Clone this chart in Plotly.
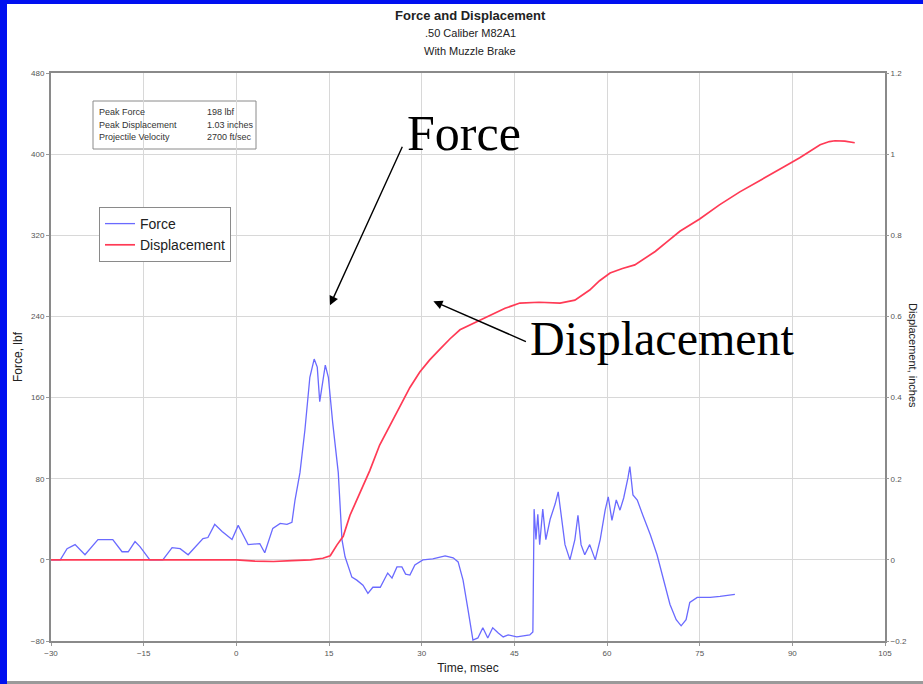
import plotly.graph_objects as go

# ---- Force (lbf) vs time (msec) ----
force_t = [-30, -28.5, -27.4, -26.1, -24.5, -22.4, -20, -18.5, -17.5, -16.4, -15.6, -14, -11.9,
           -10.4, -9.1, -7.8, -5.4, -4.6, -3.5, -2.3, -0.7, 0.3, 0.9, 1.9, 3.8, 4.6, 5.9, 7.1,
           8.2, 9.0, 9.5, 10.3, 11.1, 11.9, 12.6, 13.1, 13.5, 14.0, 14.4, 14.9, 15.6, 16.5,
           17.1, 17.6, 18.7, 19.5, 20.5, 21.3, 22.1, 23.3, 24.5, 25.2, 26.0, 26.8, 27.4, 28.1,
           28.9, 30.2, 31.8, 33.8, 35.1, 35.9, 36.7, 37.5, 38.3, 39.1, 39.9, 40.7, 41.5, 42.4,
           43.2, 44.0, 45.4, 47.5, 48.0, 48.2, 48.5, 48.8, 49.1, 49.6, 50.1, 50.8, 51.6, 52.1,
           52.6, 53.2, 54.0, 54.8, 55.3, 55.8, 56.4, 57.2, 58.1, 58.9, 59.7, 60.2, 60.8, 61.5,
           62.1, 62.7, 63.4, 63.7, 64.2, 64.9, 65.8, 67.0, 68.1, 69.1, 70.2, 71.2, 72.0, 72.8,
           73.4, 74.6, 76.7, 78.3, 80.7]
force_lbf = [0, 0, 11, 15, 5, 20, 20, 8, 8, 18, 13, 0, 0,
             12, 11, 5, 21, 22, 35, 28, 20, 34, 27, 15, 16, 7, 31, 36,
             35, 37, 59, 86, 128, 180, 198, 190, 156, 177, 192, 180, 135, 86,
             20, 3, -17, -20, -25, -33, -27, -27, -13, -18, -7, -7, -14, -15,
             -5, 0, 1, 4, 2, -2, -20, -49, -79, -77, -67, -77, -67, -72,
             -76, -74, -76, -74, -71, 50, 20, 45, 15, 50, 20, 40, 55, 67,
             44, 15, 0, 20, 44, 15, 5, 15, 0, 20, 49, 62, 39, 59,
             49, 61, 81, 92, 64, 59, 44, 25, 5, -18, -44, -59, -65, -59,
             -42, -37, -37, -36, -34]

# ---- Displacement (inches) vs time (msec) ----
disp_t = [-30, -20, -10, 0, 3, 6, 9, 12, 14, 15.2, 16.3, 17.3, 18.4, 20, 21.6, 23.2, 24.8,
          26.5, 28.1, 29.7, 31.3, 33, 34.6, 36.2, 38.6, 41.1, 43.5, 45.9, 49, 52.4, 54.8,
          57.2, 58.8, 60.5, 62.5, 64.5, 66, 67.8, 69.8, 71.8, 75, 78.2, 81.5, 84, 86.4,
          88.8, 91.2, 93, 94.5, 96, 96.9, 98.5, 100.1]
disp_in = [0, 0, 0, 0, -0.003, -0.004, -0.002, 0.0, 0.004, 0.01, 0.037, 0.058, 0.11, 0.165,
           0.22, 0.283, 0.33, 0.38, 0.425, 0.463, 0.493, 0.52, 0.545, 0.567, 0.585, 0.604,
           0.62, 0.633, 0.635, 0.633, 0.64, 0.665, 0.688, 0.707, 0.718, 0.727, 0.742, 0.76,
           0.785, 0.81, 0.84, 0.875, 0.907, 0.928, 0.949, 0.97, 0.991, 1.008, 1.023, 1.031,
           1.033, 1.032, 1.028]

# summary box rows
summary_labels = ["Peak Force", "Peak Displacement", "Projectile Velocity"]
summary_values = ["198 lbf", "1.03 inches", "2700 ft/sec"]

W, H = 923, 684
ML, MR, MT, MB = 51, 38, 73, 43
PW, PH = W - ML - MR, H - MT - MB


def px(x):
    """page pixel column -> paper x"""
    return (x - ML) / PW


def py(y):
    """page pixel row -> paper y"""
    return (H - MB - y) / PH


SANS = "Liberation Sans, Arial, sans-serif"
SERIF = "Liberation Serif, Times New Roman, serif"

fig = go.Figure()
fig.add_trace(go.Scatter(x=force_t, y=force_lbf, name="Force", mode="lines",
                         line=dict(color="#6a6aff", width=1.3), yaxis="y"))
fig.add_trace(go.Scatter(x=disp_t, y=disp_in, name="Displacement", mode="lines",
                         line=dict(color="#ff3a55", width=1.7), yaxis="y2"))

axis_common = dict(showline=True, linecolor="#8a8a8a", linewidth=2, mirror=True,
                   ticks="outside", ticklen=3, tickcolor="#9a9a9a",
                   tickfont=dict(family=SANS, size=8, color="#555"), zeroline=False)

fig.update_layout(
    width=W, height=H,
    margin=dict(l=ML, r=MR, t=MT, b=MB),
    paper_bgcolor="white", plot_bgcolor="white",
    font=dict(family=SANS, color="#222"),
    xaxis=dict(range=[-30, 105], dtick=15, tick0=-30, showgrid=True, gridcolor="#d8d8d8",
               gridwidth=1,
               title=dict(text="Time, msec", font=dict(family=SANS, size=12, color="#222"),
                          standoff=7),
               **axis_common),
    yaxis=dict(range=[-80, 480], dtick=80, tick0=-80, showgrid=True, gridcolor="#d8d8d8",
               title=dict(text="Force, lbf", font=dict(family=SANS, size=12, color="#222"),
                          standoff=6),
               **axis_common),
    yaxis2=dict(range=[-0.2, 1.2], dtick=0.2, tick0=-0.2, overlaying="y", side="right",
                showgrid=False, showline=False, ticks="outside", ticklen=3,
                tickcolor="#9a9a9a", tickfont=dict(family=SANS, size=8, color="#555"),
                zeroline=False),
    legend=dict(x=px(99), y=py(207), xanchor="left", yanchor="top",
                bgcolor="white", bordercolor="#8a8a8a", borderwidth=1,
                font=dict(family=SANS, size=14, color="#222"),
                tracegroupgap=0, itemwidth=30),
    showlegend=True,
)


def label(text, x, y, size, family=SANS, angle=0, xanchor="center", color="#222"):
    return dict(text=text, x=x, y=y, xref="paper", yref="paper", showarrow=False,
                xanchor=xanchor, yanchor="middle", textangle=angle,
                font=dict(family=family, size=size, color=color))


annotations = [
    label("<b>Force and Displacement</b>", px(470), py(15), 13),
    label(".50 Caliber M82A1", px(470), py(33), 11),
    label("With Muzzle Brake", px(470), py(51), 11),
    label("Displacement, inches", px(913), py(355), 11, angle=90),
    # callout labels
    label("Force", px(464), py(133), 50, family=SERIF, color="black"),
    label("Displacement", px(662), py(338), 48, family=SERIF, color="black"),
    # callout arrows
    dict(text="", x=15.16, y=251, xref="x", yref="y", ax=73, ay=-160, axref="pixel",
         ayref="pixel", showarrow=True, arrowhead=2, arrowsize=1.3, arrowwidth=1.4,
         arrowcolor="black", standoff=0),
    dict(text="", x=31.9, y=255, xref="x", yref="y", ax=94, ay=41, axref="pixel",
         ayref="pixel", showarrow=True, arrowhead=2, arrowsize=1.3, arrowwidth=1.4,
         arrowcolor="black", standoff=0),
]

# summary box text
row_y = [112, 125, 137]
for lab, val, ry in zip(summary_labels, summary_values, row_y):
    annotations.append(label(lab, px(97), py(ry), 9, xanchor="left", color="#333"))
    annotations.append(label(val, px(205), py(ry), 9, xanchor="left", color="#333"))
fig.update_layout(annotations=annotations)

shapes = [
    # summary box outline
    dict(type="rect", xref="paper", yref="paper", x0=px(93), x1=px(256), y0=py(149), y1=py(101),
         line=dict(color="#8a8a8a", width=1), fillcolor="white", layer="below"),
    # blue page border (left and top) and grey bottom rule
    dict(type="rect", xref="paper", yref="paper", x0=px(0), x1=px(7), y0=py(H), y1=py(0),
         line=dict(width=0), fillcolor="#0010f0"),
    dict(type="rect", xref="paper", yref="paper", x0=px(0), x1=px(W), y0=py(4), y1=py(0),
         line=dict(width=0), fillcolor="#0010f0"),
    dict(type="rect", xref="paper", yref="paper", x0=px(7), x1=px(W), y0=py(H), y1=py(681),
         line=dict(width=0), fillcolor="#9a9a9a"),
]
fig.update_layout(shapes=shapes)

fig.write_html("out.html")
